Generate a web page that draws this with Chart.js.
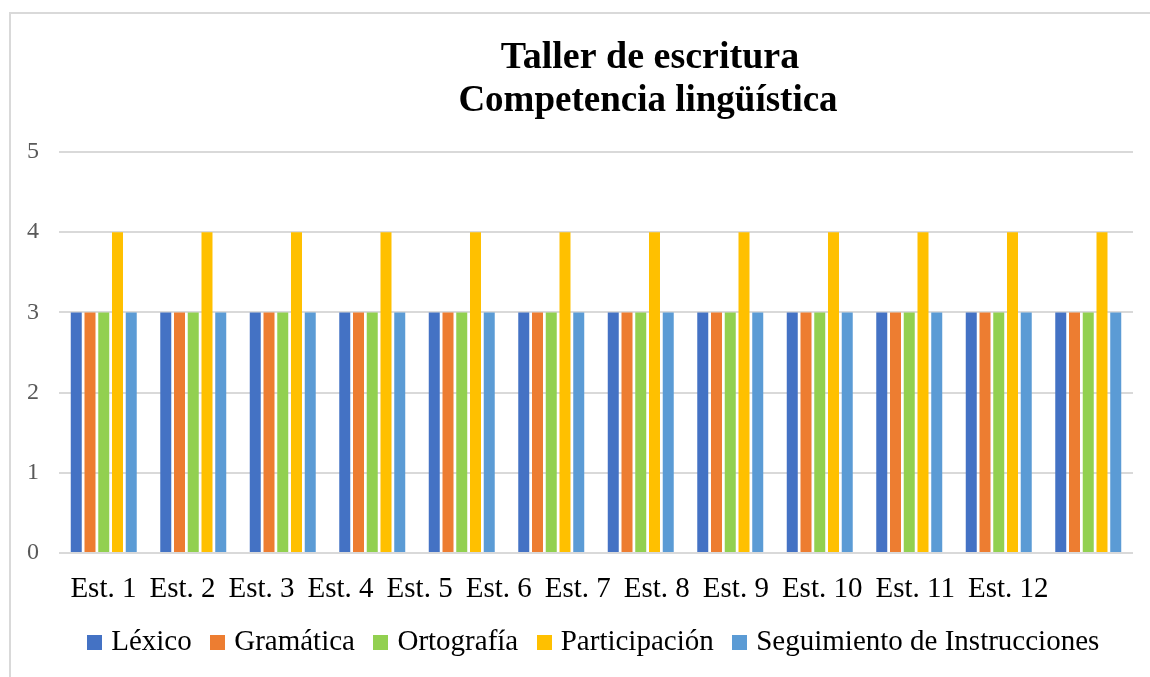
<!DOCTYPE html>
<html>
<head>
<meta charset="utf-8">
<script src="https://cdn.jsdelivr.net/npm/chart.js@4.4.0/dist/chart.umd.min.js"></script>
<style>
  html, body { margin: 0; padding: 0; background: #fff; overflow: hidden; }
  #frame { position: absolute; left: 9px; top: 12px; width: 1200px; height: 700px;
           border-left: 2px solid #d9d9d9; border-top: 2px solid #d9d9d9; }
  #chart { position: absolute; left: 0; top: 0; }
</style>
</head>
<body>
<div id="frame"></div>
<canvas id="chart" width="1150" height="677"></canvas>
<script>
var titleLines = ["Taller de escritura", "Competencia lingüística"];
var students = ["Est. 1", "Est. 2", "Est. 3", "Est. 4", "Est. 5", "Est. 6",
                "Est. 7", "Est. 8", "Est. 9", "Est. 10", "Est. 11", "Est. 12"];
var seriesNames = ["Léxico", "Gramática", "Ortografía", "Participación", "Seguimiento de Instrucciones"];
var lexico        = [3, 3, 3, 3, 3, 3, 3, 3, 3, 3, 3, 3];
var gramatica     = [3, 3, 3, 3, 3, 3, 3, 3, 3, 3, 3, 3];
var ortografia    = [3, 3, 3, 3, 3, 3, 3, 3, 3, 3, 3, 3];
var participacion = [4, 4, 4, 4, 4, 4, 4, 4, 4, 4, 4, 4];
var seguimiento   = [3, 3, 3, 3, 3, 3, 3, 3, 3, 3, 3, 3];
var seriesColors = ["#4472C4", "#ED7D31", "#92D050", "#FFC000", "#5B9BD5"];

var serif = "'Liberation Serif', 'Times New Roman', serif";
var catPct = 0.768;

// small square swatches for the legend (keeps the box close to its text)
var swatches = seriesColors.map(function(c) {
  var cv = document.createElement('canvas');
  cv.width = 15; cv.height = 15;
  var g = cv.getContext('2d');
  g.fillStyle = c;
  g.fillRect(0, 0, 15, 15);
  return cv;
});

// word-style title and category labels (text flows left to right)
var wordText = {
  id: 'wordText',
  afterDraw: function(chart) {
    var ctx = chart.ctx;
    var xs = chart.scales.x;
    ctx.save();
    ctx.fillStyle = '#000';
    ctx.textAlign = 'center';
    ctx.textBaseline = 'alphabetic';
    ctx.font = 'bold 38px ' + serif;
    ctx.fillText(titleLines[0], 650, 68);
    ctx.font = 'bold 37px ' + serif;
    ctx.fillText(titleLines[1], 648, 111);

    ctx.font = '29px ' + serif;
    ctx.textAlign = 'left';
    var step = xs.width / students.length;
    var x = xs.getPixelForValue(0) - step * catPct / 2 + 1;
    var y = chart.chartArea.bottom + 44;
    students.forEach(function(s) {
      ctx.fillText(s, x, y);
      x += ctx.measureText(s).width + 13;
    });
    ctx.restore();
  }
};

var ctx = document.getElementById('chart').getContext('2d');
var myChart = new Chart(ctx, {
  type: 'bar',
  data: {
    labels: students,
    datasets: [
      { label: seriesNames[0], data: lexico,        backgroundColor: seriesColors[0] },
      { label: seriesNames[1], data: gramatica,     backgroundColor: seriesColors[1] },
      { label: seriesNames[2], data: ortografia,    backgroundColor: seriesColors[2] },
      { label: seriesNames[3], data: participacion, backgroundColor: seriesColors[3] },
      { label: seriesNames[4], data: seguimiento,   backgroundColor: seriesColors[4] }
    ]
  },
  options: {
    responsive: false,
    animation: false,
    datasets: { bar: { categoryPercentage: catPct, barPercentage: 0.8 } },
    layout: { padding: { left: 0, right: 17, top: 152, bottom: 10 } },
    scales: {
      x: {
        grid: { display: false },
        border: { display: false },
        ticks: { display: false },
        afterFit: function(scale) { scale.height = 51; }
      },
      y: {
        min: 0,
        max: 5,
        ticks: { stepSize: 1, padding: 20, color: '#595959', font: { family: serif, size: 24 } },
        grid: { color: '#d9d9d9', lineWidth: 2, drawTicks: false },
        border: { display: false },
        afterFit: function(scale) { scale.width = 59; }
      }
    },
    plugins: {
      title: { display: false },
      tooltip: { enabled: false },
      legend: {
        position: 'bottom',
        fullSize: false,
        labels: {
          usePointStyle: true,
          pointStyleWidth: 4,
          boxHeight: 15,
          padding: 24,
          color: '#000',
          font: { family: serif, size: 29 },
          generateLabels: function(chart) {
            var items = Chart.defaults.plugins.legend.labels.generateLabels(chart);
            items.forEach(function(it, i) { it.pointStyle = swatches[i]; });
            return items;
          }
        }
      }
    }
  },
  plugins: [wordText]
});
</script>
</body>
</html>
